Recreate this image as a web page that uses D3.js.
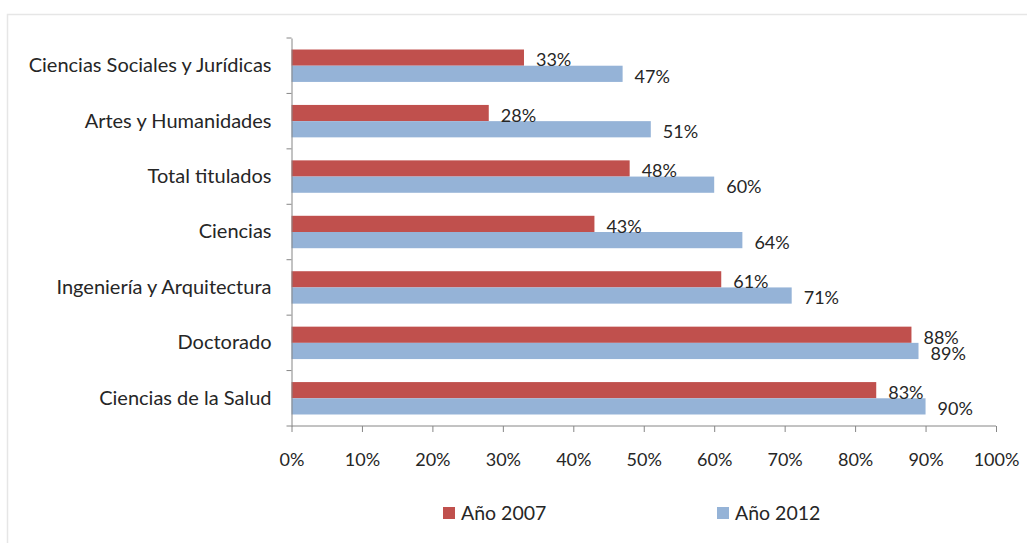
<!DOCTYPE html>
<html>
<head>
<meta charset="utf-8">
<script src="https://cdn.jsdelivr.net/npm/d3@7"></script>
<style>
  html, body { margin: 0; padding: 0; background: #fff; }
  svg { display: block; }
  text { font-family: Lato, "Open Sans", sans-serif; fill: #262626; }
</style>
</head>
<body>
<svg id="chart" width="1027" height="543"></svg>
<script>
// Titulados: porcentaje por rama de conocimiento
const categories = [
  "Ciencias Sociales y Jurídicas",
  "Artes y Humanidades",
  "Total titulados",
  "Ciencias",
  "Ingeniería y Arquitectura",
  "Doctorado",
  "Ciencias de la Salud"
];
const values2007 = [33, 28, 48, 43, 61, 88, 83];
const values2012 = [47, 51, 60, 64, 71, 89, 90];
const seriesNames = ["Año 2007", "Año 2012"];
const xTicks = [0, 10, 20, 30, 40, 50, 60, 70, 80, 90, 100];

const colors = ["#C0504D", "#95B3D7"];
const svg = d3.select("#chart");

// outer frame
svg.append("path")
  .attr("d", "M7.5,543 L7.5,14.5 L1027,14.5")
  .attr("fill", "none").attr("stroke", "#e6e6e6").attr("stroke-width", 1.5);

const plot = { left: 291.5, right: 996, top: 38, bottom: 426 };

const x = d3.scaleLinear().domain([0, 100]).range([plot.left, plot.right]);
const y = d3.scaleBand().domain(categories).range([plot.top, plot.bottom]);
const inner = d3.scaleBand().domain(seriesNames)
  .range([0, y.bandwidth()]).paddingInner(0).paddingOuter(0.71);

const rows = categories.map((c, i) => ({ cat: c, vals: [values2007[i], values2012[i]] }));

const g = svg.append("g");

// bars
rows.forEach(r => {
  r.vals.forEach((v, k) => {
    g.append("rect")
      .attr("x", x(0))
      .attr("y", y(r.cat) + inner(seriesNames[k]))
      .attr("width", x(v) - x(0))
      .attr("height", inner.bandwidth())
      .attr("fill", colors[k]);
  });
});

// value labels
rows.forEach(r => {
  r.vals.forEach((v, k) => {
    g.append("text")
      .attr("x", x(v) + 12)
      .attr("y", y(r.cat) + inner(seriesNames[k]) + inner.bandwidth() / 2 + 2.5)
      .attr("dy", "0.35em")
      .attr("font-size", 18)
      .text(v + "%");
  });
});

// y axis
const yAxis = d3.axisLeft(y).tickSize(0).tickPadding(20);
const yg = svg.append("g").attr("transform", `translate(${plot.left},0)`).call(yAxis);
yg.select(".domain").attr("stroke", "#868686");
yg.selectAll(".tick text").attr("font-size", 20).attr("fill", "#262626")
  .style("font-family", "Lato, sans-serif");
// category boundary ticks
const bounds = categories.map(c => y(c)).concat([plot.bottom]);
yg.selectAll(".bound").data(bounds).enter().append("line")
  .attr("x1", -5).attr("x2", 0)
  .attr("y1", d => d).attr("y2", d => d)
  .attr("stroke", "#868686");

// x axis
const xAxis = d3.axisBottom(x).tickValues(xTicks).tickFormat(d => d + "%")
  .tickSize(6).tickPadding(21);
const xg = svg.append("g").attr("transform", `translate(0,${plot.bottom})`).call(xAxis);
xg.select(".domain").attr("stroke", "#868686").attr("d", `M${plot.left},0H${plot.right}`);
xg.selectAll(".tick line").attr("stroke", "#868686");
xg.selectAll(".tick text").attr("font-size", 18).attr("fill", "#262626")
  .style("font-family", "Lato, sans-serif");

// legend
const legendX = [443, 717];
const legend = svg.append("g");
seriesNames.forEach((s, k) => {
  legend.append("rect")
    .attr("x", legendX[k]).attr("y", 507)
    .attr("width", 12).attr("height", 12)
    .attr("fill", colors[k]);
  legend.append("text")
    .attr("x", legendX[k] + 18).attr("y", 513)
    .attr("dy", "0.35em").attr("font-size", 19.5)
    .text(s);
});
</script>
</body>
</html>
